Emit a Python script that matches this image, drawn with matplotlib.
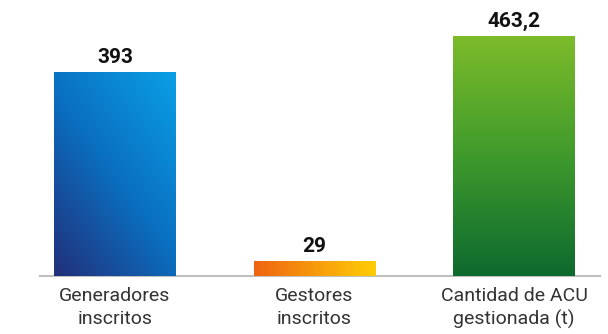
import matplotlib
matplotlib.use("Agg")
import matplotlib.pyplot as plt
import numpy as np
from matplotlib.colors import LinearSegmentedColormap
from matplotlib.patches import Rectangle

categories = ["Generadores\ninscritos", "Gestores\ninscritos", "Cantidad de ACU\ngestionada (t)"]
values = [393, 29, 463.2]
value_labels = ["393", "29", "463,2"]

fam = "Roboto"

fig = plt.figure(figsize=(6.08, 3.34), dpi=100)
ax = fig.add_axes([40/608, 58/334, 560/608, 276/334])
ax.set_xlim(-0.376, 2.431)
ax.set_ylim(0, 276/0.518)
for s in ax.spines.values():
    s.set_visible(False)
ax.set_xticks([]); ax.set_yticks([])
ax.axhline(0, color="#bfbfbf", lw=1.5, clip_on=False)

w = 0.61
grads = [
    ("diag", ["#22307a", "#0a6fc0", "#0a9fe6"]),
    ("h", ["#ef6412", "#f79a0c", "#ffcd05"]),
    ("v", ["#0d6a2e", "#3f9a2c", "#7cbb2a"]),
]
n = 128
for i, (v, (kind, cols)) in enumerate(zip(values, grads)):
    cmap = LinearSegmentedColormap.from_list("g%d" % i, cols)
    xx, yy = np.meshgrid(np.linspace(0, 1, n), np.linspace(0, 1, n))
    if kind == "diag":
        z = 0.45 * xx + 0.55 * yy
    elif kind == "h":
        z = xx
    else:
        z = yy
    x0 = i - w / 2
    im = ax.imshow(z, cmap=cmap, origin="lower", extent=[x0, x0 + w, 0, v],
                   aspect="auto", interpolation="bilinear", zorder=2)
    rect = Rectangle((x0, 0), w, v, transform=ax.transData, facecolor="none", edgecolor="none")
    ax.add_patch(rect)
    im.set_clip_path(rect)
    ax.text(i, v + 10, value_labels[i], ha="center", va="bottom", fontsize=15,
            fontweight="bold", family=fam, color="#111111")
    ax.text(i, -22, categories[i], ha="center", va="top", fontsize=14,
            family=fam, color="#333333", linespacing=1.3)

fig.savefig("out.png", dpi=100)
